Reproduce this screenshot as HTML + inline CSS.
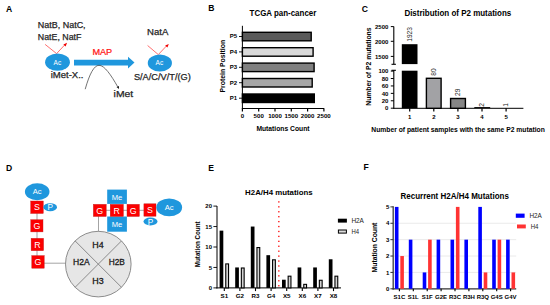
<!DOCTYPE html>
<html><head><meta charset="utf-8"><style>
html,body{margin:0;padding:0;background:#fff;}
svg{display:block;font-family:"Liberation Sans",sans-serif;}
</style></head><body>
<svg width="550" height="305" viewBox="0 0 550 305">
<rect width="550" height="305" fill="#fff"/>
<text x="6.00" y="11.80" font-size="8.6" font-weight="bold">A</text>
<text x="208.30" y="10.80" font-size="8.6" font-weight="bold">B</text>
<text x="361.80" y="11.60" font-size="8.6" font-weight="bold">C</text>
<text x="5.90" y="170.50" font-size="8.6" font-weight="bold">D</text>
<text x="208.20" y="170.50" font-size="8.6" font-weight="bold">E</text>
<text x="363.50" y="170.30" font-size="8.6" font-weight="bold">F</text>
<text x="37.80" y="27.80" font-size="8.4" stroke="#262626" stroke-width="0.25" fill="#262626" textLength="47.80" lengthAdjust="spacingAndGlyphs">NatB, NatC,</text>
<text x="37.80" y="39.90" font-size="8.4" stroke="#262626" stroke-width="0.25" fill="#262626" textLength="43.60" lengthAdjust="spacingAndGlyphs">NatE, NatF</text>
<line x1="45.10" y1="44.40" x2="56.60" y2="53.60" stroke="#ff3030" stroke-width="0.7"/>
<line x1="56.60" y1="53.60" x2="65.00" y2="44.60" stroke="#ff3030" stroke-width="0.7"/>
<polygon points="67.0,42.8 63.4,44.4 65.6,46.5" fill="#f00000"/>
<ellipse cx="57.50" cy="62.15" rx="12.40" ry="8.70" fill="#1f97dd"/>
<text x="57.35" y="65.00" font-size="7.3" fill="#fff" text-anchor="middle" textLength="7.60" lengthAdjust="spacingAndGlyphs">Ac</text>
<text x="50.70" y="77.90" font-size="8.3" stroke="#262626" stroke-width="0.25" fill="#262626" textLength="32.80" lengthAdjust="spacingAndGlyphs">iMet-X..</text>
<polygon points="74,59.7 128,59.7 128,56.7 134.5,62.6 128,68.5 128,65.6 74,65.6" fill="#1f97dd"/>
<text x="92.40" y="55.10" font-size="9.0" stroke="#ff1010" stroke-width="0.2" fill="#ff1010" textLength="19.80" lengthAdjust="spacingAndGlyphs">MAP</text>
<path d="M85.2,89.2 C89.5,74 94,65.3 99.0,65.3 C104.5,65.3 111,75 117.6,86.6" fill="none" stroke="#444" stroke-width="0.75"/>
<polygon points="119.0,88.9 116.5,87.1 118.9,85.9" fill="#111"/>
<text x="113.60" y="97.40" font-size="8.7" stroke="#262626" stroke-width="0.25" fill="#262626" textLength="19.60" lengthAdjust="spacingAndGlyphs">iMet</text>
<text x="147.00" y="34.50" font-size="8.6" stroke="#262626" stroke-width="0.25" fill="#262626" textLength="21.30" lengthAdjust="spacingAndGlyphs">NatA</text>
<line x1="147.60" y1="45.50" x2="158.30" y2="54.60" stroke="#ff3030" stroke-width="0.7"/>
<line x1="158.30" y1="54.60" x2="166.40" y2="46.00" stroke="#ff3030" stroke-width="0.7"/>
<polygon points="168.8,43.9 165.2,45.5 167.4,47.6" fill="#f00000"/>
<ellipse cx="159.85" cy="63.00" rx="12.10" ry="8.60" fill="#1f97dd"/>
<text x="159.35" y="65.20" font-size="7.3" fill="#fff" text-anchor="middle" textLength="7.60" lengthAdjust="spacingAndGlyphs">Ac</text>
<text x="133.90" y="79.70" font-size="8.8" stroke="#262626" stroke-width="0.25" fill="#262626" textLength="56.90" lengthAdjust="spacingAndGlyphs">S/A/C/V/T/(G)</text>
<text x="249.60" y="15.50" font-size="8.4" font-weight="bold" textLength="66.70" lengthAdjust="spacingAndGlyphs">TCGA pan-cancer</text>
<rect x="242.40" y="32.30" width="68.80" height="8.50" fill="#5a5a5a" stroke="#000" stroke-width="1.4"/>
<line x1="239.00" y1="36.50" x2="242.40" y2="36.50" stroke="#000" stroke-width="0.9"/>
<text x="237.20" y="38.40" font-size="6.0" font-weight="bold" text-anchor="end">P5</text>
<rect x="242.40" y="47.70" width="70.70" height="8.50" fill="#d9d9d9" stroke="#000" stroke-width="1.4"/>
<line x1="239.00" y1="51.90" x2="242.40" y2="51.90" stroke="#000" stroke-width="0.9"/>
<text x="237.20" y="53.80" font-size="6.0" font-weight="bold" text-anchor="end">P4</text>
<rect x="242.40" y="63.10" width="71.70" height="8.50" fill="#808080" stroke="#000" stroke-width="1.4"/>
<line x1="239.00" y1="67.30" x2="242.40" y2="67.30" stroke="#000" stroke-width="0.9"/>
<text x="237.20" y="69.20" font-size="6.0" font-weight="bold" text-anchor="end">P3</text>
<rect x="242.40" y="78.50" width="69.80" height="8.50" fill="#a6a6a6" stroke="#000" stroke-width="1.4"/>
<line x1="239.00" y1="82.70" x2="242.40" y2="82.70" stroke="#000" stroke-width="0.9"/>
<text x="237.20" y="84.60" font-size="6.0" font-weight="bold" text-anchor="end">P2</text>
<rect x="242.40" y="94.00" width="71.90" height="8.50" fill="#000" stroke="#000" stroke-width="1.4"/>
<line x1="239.00" y1="98.20" x2="242.40" y2="98.20" stroke="#000" stroke-width="0.9"/>
<text x="237.20" y="100.10" font-size="6.0" font-weight="bold" text-anchor="end">P1</text>
<line x1="242.40" y1="25.80" x2="242.40" y2="109.00" stroke="#000" stroke-width="1.0"/>
<line x1="241.90" y1="108.50" x2="324.20" y2="108.50" stroke="#000" stroke-width="1.0"/>
<line x1="242.40" y1="108.50" x2="242.40" y2="111.60" stroke="#000" stroke-width="1.2"/>
<text x="242.40" y="118.20" font-size="6.1" font-weight="bold" text-anchor="middle">0</text>
<line x1="258.70" y1="108.50" x2="258.70" y2="111.60" stroke="#000" stroke-width="1.2"/>
<text x="258.70" y="118.20" font-size="6.1" font-weight="bold" text-anchor="middle">500</text>
<line x1="275.00" y1="108.50" x2="275.00" y2="111.60" stroke="#000" stroke-width="1.2"/>
<text x="275.00" y="118.20" font-size="6.1" font-weight="bold" text-anchor="middle">1000</text>
<line x1="291.30" y1="108.50" x2="291.30" y2="111.60" stroke="#000" stroke-width="1.2"/>
<text x="291.30" y="118.20" font-size="6.1" font-weight="bold" text-anchor="middle">1500</text>
<line x1="307.60" y1="108.50" x2="307.60" y2="111.60" stroke="#000" stroke-width="1.2"/>
<text x="307.60" y="118.20" font-size="6.1" font-weight="bold" text-anchor="middle">2000</text>
<line x1="323.90" y1="108.50" x2="323.90" y2="111.60" stroke="#000" stroke-width="1.2"/>
<text x="323.90" y="118.20" font-size="6.1" font-weight="bold" text-anchor="middle">2500</text>
<text x="256.40" y="131.40" font-size="6.8" font-weight="bold" textLength="53.10" lengthAdjust="spacingAndGlyphs">Mutations Count</text>
<text x="225.00" y="66.20" font-size="6.9" font-weight="bold" text-anchor="middle" textLength="52.60" lengthAdjust="spacingAndGlyphs" transform="rotate(-90 225.00 66.20)">Protein Position</text>
<text x="404.40" y="16.00" font-size="8.5" font-weight="bold" textLength="106.90" lengthAdjust="spacingAndGlyphs">Distribution of P2 mutations</text>
<line x1="393.80" y1="26.60" x2="393.80" y2="64.30" stroke="#000" stroke-width="1.1"/>
<line x1="391.50" y1="64.30" x2="395.90" y2="64.30" stroke="#000" stroke-width="1.1"/>
<line x1="390.80" y1="26.60" x2="393.80" y2="26.60" stroke="#000" stroke-width="1.0"/>
<text x="388.40" y="28.80" font-size="6.0" font-weight="bold" text-anchor="end">2500</text>
<line x1="390.80" y1="41.30" x2="393.80" y2="41.30" stroke="#000" stroke-width="1.0"/>
<text x="388.40" y="43.50" font-size="6.0" font-weight="bold" text-anchor="end">2000</text>
<line x1="390.80" y1="56.40" x2="393.80" y2="56.40" stroke="#000" stroke-width="1.0"/>
<text x="388.40" y="58.60" font-size="6.0" font-weight="bold" text-anchor="end">1500</text>
<line x1="393.80" y1="70.30" x2="393.80" y2="108.80" stroke="#000" stroke-width="1.1"/>
<line x1="391.50" y1="70.30" x2="395.90" y2="70.30" stroke="#000" stroke-width="1.1"/>
<line x1="390.80" y1="71.10" x2="393.80" y2="71.10" stroke="#000" stroke-width="1.0"/>
<text x="388.40" y="73.30" font-size="6.0" font-weight="bold" text-anchor="end">100</text>
<line x1="390.80" y1="78.52" x2="393.80" y2="78.52" stroke="#000" stroke-width="1.0"/>
<text x="388.40" y="80.72" font-size="6.0" font-weight="bold" text-anchor="end">80</text>
<line x1="390.80" y1="85.94" x2="393.80" y2="85.94" stroke="#000" stroke-width="1.0"/>
<text x="388.40" y="88.14" font-size="6.0" font-weight="bold" text-anchor="end">60</text>
<line x1="390.80" y1="93.36" x2="393.80" y2="93.36" stroke="#000" stroke-width="1.0"/>
<text x="388.40" y="95.56" font-size="6.0" font-weight="bold" text-anchor="end">40</text>
<line x1="390.80" y1="100.78" x2="393.80" y2="100.78" stroke="#000" stroke-width="1.0"/>
<text x="388.40" y="102.98" font-size="6.0" font-weight="bold" text-anchor="end">20</text>
<line x1="390.80" y1="108.20" x2="393.80" y2="108.20" stroke="#000" stroke-width="1.0"/>
<text x="388.40" y="110.40" font-size="6.0" font-weight="bold" text-anchor="end">0</text>
<line x1="393.30" y1="108.30" x2="523.40" y2="108.30" stroke="#000" stroke-width="1.0"/>
<rect x="401.80" y="44.20" width="15.70" height="19.90" fill="#000"/>
<rect x="401.80" y="70.70" width="15.70" height="37.60" fill="#000"/>
<rect x="426.40" y="78.30" width="14.70" height="30.00" fill="#a2a2a5" stroke="#000" stroke-width="1.4"/>
<rect x="450.60" y="98.50" width="14.80" height="9.80" fill="#868686" stroke="#000" stroke-width="1.4"/>
<line x1="474.30" y1="107.60" x2="490.20" y2="107.60" stroke="#000" stroke-width="1.0"/>
<line x1="409.70" y1="108.30" x2="409.70" y2="111.60" stroke="#000" stroke-width="1.2"/>
<text x="409.70" y="118.70" font-size="6.0" font-weight="bold" text-anchor="middle">1</text>
<line x1="433.80" y1="108.30" x2="433.80" y2="111.60" stroke="#000" stroke-width="1.2"/>
<text x="433.80" y="118.70" font-size="6.0" font-weight="bold" text-anchor="middle">2</text>
<line x1="457.90" y1="108.30" x2="457.90" y2="111.60" stroke="#000" stroke-width="1.2"/>
<text x="457.90" y="118.70" font-size="6.0" font-weight="bold" text-anchor="middle">3</text>
<line x1="482.00" y1="108.30" x2="482.00" y2="111.60" stroke="#000" stroke-width="1.2"/>
<text x="482.00" y="118.70" font-size="6.0" font-weight="bold" text-anchor="middle">4</text>
<line x1="506.10" y1="108.30" x2="506.10" y2="111.60" stroke="#000" stroke-width="1.2"/>
<text x="506.10" y="118.70" font-size="6.0" font-weight="bold" text-anchor="middle">5</text>
<text x="411.70" y="34.40" font-size="6.6" fill="#222" text-anchor="middle" transform="rotate(-90 411.70 34.40)">1923</text>
<text x="435.60" y="72.00" font-size="6.6" fill="#222" text-anchor="middle" transform="rotate(-90 435.60 72.00)">80</text>
<text x="460.20" y="92.30" font-size="6.6" fill="#222" text-anchor="middle" transform="rotate(-90 460.20 92.30)">29</text>
<text x="484.00" y="104.80" font-size="6.6" fill="#222" text-anchor="middle" transform="rotate(-90 484.00 104.80)">2</text>
<text x="508.00" y="104.80" font-size="6.6" fill="#222" text-anchor="middle" transform="rotate(-90 508.00 104.80)">1</text>
<text x="370.80" y="66.60" font-size="6.8" font-weight="bold" text-anchor="middle" textLength="78.30" lengthAdjust="spacingAndGlyphs" transform="rotate(-90 370.80 66.60)">Number of P2 mutations</text>
<text x="371.30" y="132.20" font-size="6.8" font-weight="bold" textLength="173.50" lengthAdjust="spacingAndGlyphs">Number of patient samples with the same P2 mutation</text>
<line x1="37.00" y1="205.00" x2="37.00" y2="262.00" stroke="#9a9a9a" stroke-width="0.9"/>
<line x1="40.00" y1="263.20" x2="65.50" y2="263.20" stroke="#9a9a9a" stroke-width="0.9"/>
<line x1="98.50" y1="212.00" x2="98.50" y2="232.00" stroke="#9a9a9a" stroke-width="0.9"/>
<line x1="100.00" y1="210.30" x2="150.00" y2="210.30" stroke="#9a9a9a" stroke-width="0.9"/>
<ellipse cx="37.20" cy="191.80" rx="12.30" ry="8.50" fill="#1f97dd"/>
<text x="37.20" y="194.10" font-size="7.6" fill="#fff" text-anchor="middle">Ac</text>
<rect x="30.70" y="201.00" width="12.60" height="12.50" fill="#fb0000" stroke="#c02020" stroke-width="0.4"/>
<text x="37.00" y="210.45" font-size="8.8" fill="#fff" text-anchor="middle">S</text>
<rect x="30.80" y="219.70" width="12.20" height="12.20" fill="#fb0000" stroke="#c02020" stroke-width="0.4"/>
<text x="36.90" y="229.00" font-size="8.8" fill="#fff" text-anchor="middle">G</text>
<rect x="31.10" y="238.30" width="12.50" height="12.40" fill="#fb0000" stroke="#c02020" stroke-width="0.4"/>
<text x="37.35" y="247.70" font-size="8.8" fill="#fff" text-anchor="middle">R</text>
<rect x="31.80" y="255.60" width="12.40" height="12.60" fill="#fb0000" stroke="#c02020" stroke-width="0.4"/>
<text x="38.00" y="265.10" font-size="8.8" fill="#fff" text-anchor="middle">G</text>
<ellipse cx="50.20" cy="207.20" rx="6.80" ry="4.00" fill="#1f97dd"/>
<text x="50.20" y="210.20" font-size="8.2" fill="#fff" text-anchor="middle">P</text>
<circle cx="98.3" cy="264.1" r="32.8" fill="#e6e6e6" stroke="#808080" stroke-width="0.9"/>
<line x1="75.11" y1="240.91" x2="121.49" y2="287.29" stroke="#808080" stroke-width="0.9"/>
<line x1="75.11" y1="287.29" x2="121.49" y2="240.91" stroke="#808080" stroke-width="0.9"/>
<text x="98.00" y="248.20" font-size="8.9" stroke="#1a1a1a" stroke-width="0.3" fill="#1a1a1a" text-anchor="middle">H4</text>
<text x="81.30" y="265.30" font-size="8.9" stroke="#1a1a1a" stroke-width="0.3" fill="#1a1a1a" text-anchor="middle" textLength="16.60" lengthAdjust="spacingAndGlyphs">H2A</text>
<text x="116.80" y="265.30" font-size="8.9" stroke="#1a1a1a" stroke-width="0.3" fill="#1a1a1a" text-anchor="middle" textLength="16.20" lengthAdjust="spacingAndGlyphs">H2B</text>
<text x="98.00" y="284.00" font-size="8.9" stroke="#1a1a1a" stroke-width="0.3" fill="#1a1a1a" text-anchor="middle">H3</text>
<rect x="107.20" y="189.60" width="19.70" height="14.30" fill="#1f97dd"/>
<rect x="107.20" y="216.50" width="19.70" height="15.20" fill="#1f97dd"/>
<text x="117.00" y="199.60" font-size="7.6" fill="#fff" text-anchor="middle">Me</text>
<text x="117.00" y="227.00" font-size="7.6" fill="#fff" text-anchor="middle">Me</text>
<rect x="93.30" y="204.30" width="12.90" height="12.20" fill="#fb0000" stroke="#c02020" stroke-width="0.4"/>
<text x="99.75" y="213.60" font-size="8.8" fill="#fff" text-anchor="middle">G</text>
<rect x="110.20" y="204.30" width="13.20" height="12.20" fill="#fb0000" stroke="#c02020" stroke-width="0.4"/>
<text x="116.80" y="213.60" font-size="8.8" fill="#fff" text-anchor="middle">R</text>
<rect x="127.00" y="204.30" width="12.40" height="12.20" fill="#fb0000" stroke="#c02020" stroke-width="0.4"/>
<text x="133.20" y="213.60" font-size="8.8" fill="#fff" text-anchor="middle">G</text>
<rect x="143.90" y="203.80" width="12.10" height="12.40" fill="#fb0000" stroke="#c02020" stroke-width="0.4"/>
<text x="149.95" y="213.20" font-size="8.8" fill="#fff" text-anchor="middle">S</text>
<ellipse cx="169.20" cy="207.40" rx="12.90" ry="8.90" fill="#1f97dd"/>
<text x="169.20" y="209.90" font-size="7.6" fill="#fff" text-anchor="middle">Ac</text>
<ellipse cx="150.50" cy="221.50" rx="7.00" ry="3.90" fill="#1f97dd"/>
<text x="150.50" y="224.60" font-size="8.2" fill="#fff" text-anchor="middle">P</text>
<text x="245.10" y="195.30" font-size="7.8" font-weight="bold" textLength="67.60" lengthAdjust="spacingAndGlyphs">H2A/H4 mutations</text>
<line x1="217.00" y1="206.00" x2="217.00" y2="288.40" stroke="#000" stroke-width="1.0"/>
<line x1="216.50" y1="287.90" x2="341.00" y2="287.90" stroke="#000" stroke-width="1.0"/>
<line x1="213.40" y1="287.90" x2="217.00" y2="287.90" stroke="#000" stroke-width="0.9"/>
<text x="212.00" y="290.10" font-size="6.0" font-weight="bold" text-anchor="end">0</text>
<line x1="213.40" y1="267.45" x2="217.00" y2="267.45" stroke="#000" stroke-width="0.9"/>
<text x="212.00" y="269.65" font-size="6.0" font-weight="bold" text-anchor="end">5</text>
<line x1="213.40" y1="247.00" x2="217.00" y2="247.00" stroke="#000" stroke-width="0.9"/>
<text x="212.00" y="249.20" font-size="6.0" font-weight="bold" text-anchor="end">10</text>
<line x1="213.40" y1="226.55" x2="217.00" y2="226.55" stroke="#000" stroke-width="0.9"/>
<text x="212.00" y="228.75" font-size="6.0" font-weight="bold" text-anchor="end">15</text>
<line x1="213.40" y1="206.10" x2="217.00" y2="206.10" stroke="#000" stroke-width="0.9"/>
<text x="212.00" y="208.30" font-size="6.0" font-weight="bold" text-anchor="end">20</text>
<rect x="219.60" y="230.64" width="3.70" height="57.26" fill="#000"/>
<rect x="225.75" y="263.91" width="2.80" height="23.99" fill="#d2d2d2" stroke="#000" stroke-width="1.1"/>
<line x1="224.30" y1="287.90" x2="224.30" y2="291.10" stroke="#000" stroke-width="1.1"/>
<text x="224.30" y="298.20" font-size="6.2" font-weight="bold" text-anchor="middle">S1</text>
<rect x="235.20" y="267.45" width="3.70" height="20.45" fill="#000"/>
<rect x="241.35" y="268.00" width="2.80" height="19.90" fill="#d2d2d2" stroke="#000" stroke-width="1.1"/>
<line x1="239.90" y1="287.90" x2="239.90" y2="291.10" stroke="#000" stroke-width="1.1"/>
<text x="239.90" y="298.20" font-size="6.2" font-weight="bold" text-anchor="middle">G2</text>
<rect x="250.80" y="226.55" width="3.70" height="61.35" fill="#000"/>
<rect x="256.95" y="247.55" width="2.80" height="40.35" fill="#d2d2d2" stroke="#000" stroke-width="1.1"/>
<line x1="255.50" y1="287.90" x2="255.50" y2="291.10" stroke="#000" stroke-width="1.1"/>
<text x="255.50" y="298.20" font-size="6.2" font-weight="bold" text-anchor="middle">R3</text>
<rect x="266.40" y="255.18" width="3.70" height="32.72" fill="#000"/>
<rect x="272.55" y="259.82" width="2.80" height="28.08" fill="#d2d2d2" stroke="#000" stroke-width="1.1"/>
<line x1="271.10" y1="287.90" x2="271.10" y2="291.10" stroke="#000" stroke-width="1.1"/>
<text x="271.10" y="298.20" font-size="6.2" font-weight="bold" text-anchor="middle">G4</text>
<rect x="282.00" y="279.72" width="3.70" height="8.18" fill="#000"/>
<rect x="288.15" y="276.18" width="2.80" height="11.72" fill="#d2d2d2" stroke="#000" stroke-width="1.1"/>
<line x1="286.70" y1="287.90" x2="286.70" y2="291.10" stroke="#000" stroke-width="1.1"/>
<text x="286.70" y="298.20" font-size="6.2" font-weight="bold" text-anchor="middle">X5</text>
<rect x="297.60" y="267.45" width="3.70" height="20.45" fill="#000"/>
<rect x="303.75" y="284.36" width="2.80" height="3.54" fill="#d2d2d2" stroke="#000" stroke-width="1.1"/>
<line x1="302.30" y1="287.90" x2="302.30" y2="291.10" stroke="#000" stroke-width="1.1"/>
<text x="302.30" y="298.20" font-size="6.2" font-weight="bold" text-anchor="middle">X6</text>
<rect x="313.20" y="267.45" width="3.70" height="20.45" fill="#000"/>
<rect x="319.35" y="280.27" width="2.80" height="7.63" fill="#d2d2d2" stroke="#000" stroke-width="1.1"/>
<line x1="317.90" y1="287.90" x2="317.90" y2="291.10" stroke="#000" stroke-width="1.1"/>
<text x="317.90" y="298.20" font-size="6.2" font-weight="bold" text-anchor="middle">X7</text>
<rect x="328.80" y="259.27" width="3.70" height="28.63" fill="#000"/>
<rect x="334.95" y="276.18" width="2.80" height="11.72" fill="#d2d2d2" stroke="#000" stroke-width="1.1"/>
<line x1="333.50" y1="287.90" x2="333.50" y2="291.10" stroke="#000" stroke-width="1.1"/>
<text x="333.50" y="298.20" font-size="6.2" font-weight="bold" text-anchor="middle">X8</text>
<rect x="278.00" y="201.25" width="1.60" height="1.30" fill="#ff3030"/>
<rect x="278.00" y="206.18" width="1.60" height="1.30" fill="#ff3030"/>
<rect x="278.00" y="211.11" width="1.60" height="1.30" fill="#ff3030"/>
<rect x="278.00" y="216.04" width="1.60" height="1.30" fill="#ff3030"/>
<rect x="278.00" y="220.97" width="1.60" height="1.30" fill="#ff3030"/>
<rect x="278.00" y="225.90" width="1.60" height="1.30" fill="#ff3030"/>
<rect x="278.00" y="230.83" width="1.60" height="1.30" fill="#ff3030"/>
<rect x="278.00" y="235.76" width="1.60" height="1.30" fill="#ff3030"/>
<rect x="278.00" y="240.69" width="1.60" height="1.30" fill="#ff3030"/>
<rect x="278.00" y="245.62" width="1.60" height="1.30" fill="#ff3030"/>
<rect x="278.00" y="250.55" width="1.60" height="1.30" fill="#ff3030"/>
<rect x="278.00" y="255.48" width="1.60" height="1.30" fill="#ff3030"/>
<rect x="278.00" y="260.41" width="1.60" height="1.30" fill="#ff3030"/>
<rect x="278.00" y="265.34" width="1.60" height="1.30" fill="#ff3030"/>
<rect x="278.00" y="270.27" width="1.60" height="1.30" fill="#ff3030"/>
<rect x="278.00" y="275.20" width="1.60" height="1.30" fill="#ff3030"/>
<rect x="278.00" y="280.13" width="1.60" height="1.30" fill="#ff3030"/>
<rect x="278.00" y="285.06" width="1.60" height="1.30" fill="#ff3030"/>
<rect x="337.90" y="218.70" width="9.00" height="3.90" fill="#000"/>
<rect x="338.40" y="230.00" width="8.00" height="3.10" fill="#ddd" stroke="#000" stroke-width="1.0"/>
<text x="351.40" y="222.80" font-size="6.6" fill="#222" textLength="12.50" lengthAdjust="spacingAndGlyphs">H2A</text>
<text x="351.40" y="233.60" font-size="6.6" fill="#222" textLength="7.60" lengthAdjust="spacingAndGlyphs">H4</text>
<text x="199.60" y="244.30" font-size="6.3" font-weight="bold" text-anchor="middle" textLength="45.80" lengthAdjust="spacingAndGlyphs" transform="rotate(-90 199.60 244.30)">Mutation Count</text>
<text x="400.50" y="199.30" font-size="8.5" font-weight="bold" textLength="108.40" lengthAdjust="spacingAndGlyphs">Recurrent H2A/H4 Mutations</text>
<line x1="393.20" y1="272.42" x2="516.20" y2="272.42" stroke="#e4e4e4" stroke-width="0.8"/>
<line x1="393.20" y1="256.04" x2="516.20" y2="256.04" stroke="#e4e4e4" stroke-width="0.8"/>
<line x1="393.20" y1="239.66" x2="516.20" y2="239.66" stroke="#e4e4e4" stroke-width="0.8"/>
<line x1="393.20" y1="223.28" x2="516.20" y2="223.28" stroke="#e4e4e4" stroke-width="0.8"/>
<line x1="393.20" y1="206.30" x2="393.20" y2="289.50" stroke="#4a4a4a" stroke-width="1.4"/>
<line x1="392.50" y1="288.80" x2="516.20" y2="288.80" stroke="#333" stroke-width="1.2"/>
<line x1="390.40" y1="288.80" x2="393.20" y2="288.80" stroke="#333" stroke-width="1.0"/>
<text x="389.30" y="291.00" font-size="6.0" font-weight="bold" text-anchor="end">0</text>
<line x1="390.40" y1="272.42" x2="393.20" y2="272.42" stroke="#333" stroke-width="1.0"/>
<text x="389.30" y="274.62" font-size="6.0" font-weight="bold" text-anchor="end">1</text>
<line x1="390.40" y1="256.04" x2="393.20" y2="256.04" stroke="#333" stroke-width="1.0"/>
<text x="389.30" y="258.24" font-size="6.0" font-weight="bold" text-anchor="end">2</text>
<line x1="390.40" y1="239.66" x2="393.20" y2="239.66" stroke="#333" stroke-width="1.0"/>
<text x="389.30" y="241.86" font-size="6.0" font-weight="bold" text-anchor="end">3</text>
<line x1="390.40" y1="223.28" x2="393.20" y2="223.28" stroke="#333" stroke-width="1.0"/>
<text x="389.30" y="225.48" font-size="6.0" font-weight="bold" text-anchor="end">4</text>
<line x1="390.40" y1="206.90" x2="393.20" y2="206.90" stroke="#333" stroke-width="1.0"/>
<text x="389.30" y="209.10" font-size="6.0" font-weight="bold" text-anchor="end">5</text>
<rect x="394.90" y="206.90" width="3.60" height="81.90" fill="#0000ff"/>
<rect x="400.30" y="256.04" width="3.60" height="32.76" fill="#ff3333"/>
<line x1="399.40" y1="288.80" x2="399.40" y2="291.20" stroke="#000" stroke-width="1.1"/>
<text x="399.40" y="299.00" font-size="6.0" font-weight="bold" text-anchor="middle">S1C</text>
<rect x="408.80" y="239.66" width="3.60" height="49.14" fill="#0000ff"/>
<line x1="413.30" y1="288.80" x2="413.30" y2="291.20" stroke="#000" stroke-width="1.1"/>
<text x="413.30" y="299.00" font-size="6.0" font-weight="bold" text-anchor="middle">S1L</text>
<rect x="422.70" y="272.42" width="3.60" height="16.38" fill="#0000ff"/>
<rect x="428.10" y="239.66" width="3.60" height="49.14" fill="#ff3333"/>
<line x1="427.20" y1="288.80" x2="427.20" y2="291.20" stroke="#000" stroke-width="1.1"/>
<text x="427.20" y="299.00" font-size="6.0" font-weight="bold" text-anchor="middle">S1F</text>
<rect x="436.60" y="239.66" width="3.60" height="49.14" fill="#0000ff"/>
<line x1="441.10" y1="288.80" x2="441.10" y2="291.20" stroke="#000" stroke-width="1.1"/>
<text x="441.10" y="299.00" font-size="6.0" font-weight="bold" text-anchor="middle">G2E</text>
<rect x="450.50" y="239.66" width="3.60" height="49.14" fill="#0000ff"/>
<rect x="455.90" y="206.90" width="3.60" height="81.90" fill="#ff3333"/>
<line x1="455.00" y1="288.80" x2="455.00" y2="291.20" stroke="#000" stroke-width="1.1"/>
<text x="455.00" y="299.00" font-size="6.0" font-weight="bold" text-anchor="middle">R3C</text>
<rect x="464.40" y="239.66" width="3.60" height="49.14" fill="#0000ff"/>
<line x1="468.90" y1="288.80" x2="468.90" y2="291.20" stroke="#000" stroke-width="1.1"/>
<text x="468.90" y="299.00" font-size="6.0" font-weight="bold" text-anchor="middle">R3H</text>
<rect x="478.30" y="206.90" width="3.60" height="81.90" fill="#0000ff"/>
<rect x="483.70" y="272.42" width="3.60" height="16.38" fill="#ff3333"/>
<line x1="482.80" y1="288.80" x2="482.80" y2="291.20" stroke="#000" stroke-width="1.1"/>
<text x="482.80" y="299.00" font-size="6.0" font-weight="bold" text-anchor="middle">R3Q</text>
<rect x="492.20" y="239.66" width="3.60" height="49.14" fill="#0000ff"/>
<rect x="497.60" y="239.66" width="3.60" height="49.14" fill="#ff3333"/>
<line x1="496.70" y1="288.80" x2="496.70" y2="291.20" stroke="#000" stroke-width="1.1"/>
<text x="496.70" y="299.00" font-size="6.0" font-weight="bold" text-anchor="middle">G4S</text>
<rect x="506.10" y="239.66" width="3.60" height="49.14" fill="#0000ff"/>
<rect x="511.50" y="272.42" width="3.60" height="16.38" fill="#ff3333"/>
<line x1="510.60" y1="288.80" x2="510.60" y2="291.20" stroke="#000" stroke-width="1.1"/>
<text x="510.60" y="299.00" font-size="6.0" font-weight="bold" text-anchor="middle">G4V</text>
<rect x="515.80" y="213.60" width="8.80" height="4.20" fill="#0000ff"/>
<rect x="517.00" y="224.50" width="8.80" height="3.90" fill="#ff3333"/>
<text x="529.40" y="218.10" font-size="6.6" fill="#222" textLength="12.40" lengthAdjust="spacingAndGlyphs">H2A</text>
<text x="530.70" y="228.90" font-size="6.6" fill="#222" textLength="7.70" lengthAdjust="spacingAndGlyphs">H4</text>
<text x="376.50" y="247.50" font-size="6.8" font-weight="bold" text-anchor="middle" textLength="49.80" lengthAdjust="spacingAndGlyphs" transform="rotate(-90 376.50 247.50)">Mutation Count</text>
</svg>
</body></html>
